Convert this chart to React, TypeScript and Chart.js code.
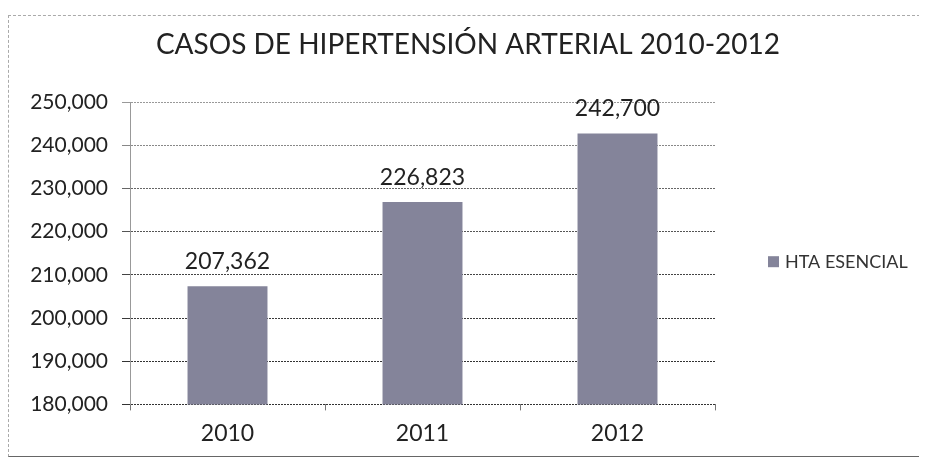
import React, { useEffect, useRef } from "react";
import { Chart, registerables } from "chart.js";

Chart.register(...registerables);

const categories = ["2010", "2011", "2012"];
const seriesName = "HTA ESENCIAL";
const values = [207362, 226823, 242700];
const titleText = "CASOS DE HIPERTENSIÓN ARTERIAL 2010-2012";
const yMin = 180000;
const yMax = 250000;
const yStep = 10000;

const FONT = "Lato, 'Open Sans', sans-serif";
const BAR_COLOR = "#84849a";
const fmt = (v: number) => v.toLocaleString("en-US");
const gridColors = ["#333", "#333", "#3a3a3a", "#444", "#555", "#666", "#888", "#999"];

const titlePlugin = {
  id: "centerTitle",
  afterDraw(chart: any) {
    const ctx = chart.ctx;
    ctx.save();
    ctx.font = `28px ${FONT}`;
    ctx.fillStyle = "#222";
    ctx.textAlign = "center";
    ctx.textBaseline = "middle";
    ctx.fillText(titleText, chart.width / 2 + 4, 29);
    ctx.restore();
  },
};

const valueLabels = {
  id: "valueLabels",
  afterDatasetsDraw(chart: any) {
    const ctx = chart.ctx;
    const meta = chart.getDatasetMeta(0);
    ctx.save();
    ctx.font = `23px ${FONT}`;
    ctx.fillStyle = "#222";
    ctx.textAlign = "center";
    ctx.textBaseline = "middle";
    meta.data.forEach((el: any, i: number) => {
      ctx.fillText(fmt(values[i]), el.x, el.y - 25);
    });
    ctx.restore();
  },
};

const sideLegend = {
  id: "sideLegend",
  afterDraw(chart: any) {
    const { ctx, chartArea } = chart;
    const cy = (chartArea.top + chartArea.bottom) / 2 + 8;
    const x = chartArea.right + 53;
    ctx.save();
    ctx.fillStyle = BAR_COLOR;
    ctx.fillRect(x, cy - 5, 11, 11);
    ctx.font = `18px ${FONT}`;
    ctx.fillStyle = "#333";
    ctx.textAlign = "left";
    ctx.textBaseline = "middle";
    ctx.fillText(seriesName, x + 17, cy + 1);
    ctx.restore();
  },
};

export default function App() {
  const ref = useRef<HTMLCanvasElement>(null);
  useEffect(() => {
    if (!ref.current) return;
    const chart = new Chart(ref.current, {
      type: "bar",
      data: {
        labels: categories,
        datasets: [
          {
            label: seriesName,
            data: values,
            backgroundColor: BAR_COLOR,
            barPercentage: 0.41,
            categoryPercentage: 1,
          },
        ],
      },
      options: {
        responsive: false,
        animation: false,
        layout: { padding: { left: 0, right: 204, top: 86, bottom: 0 } },
        plugins: {
          legend: { display: false },
          tooltip: { enabled: false },
          title: { display: false },
        },
        scales: {
          x: {
            grid: {
              display: true,
              offset: true,
              drawOnChartArea: false,
              tickLength: 6,
              color: "#777",
            },
            border: { display: false },
            ticks: {
              color: "#222",
              padding: 9,
              font: { family: FONT, size: 23 },
            },
          },
          y: {
            min: yMin,
            max: yMax,
            afterFit(scale: any) {
              scale.width = 121;
            },
            grid: {
              color: (c: any) => gridColors[c.index] ?? "#666",
              tickLength: 8,
              lineWidth: 1,
            },
            border: { display: true, color: "#999", dash: [2, 1] },
            ticks: {
              stepSize: yStep,
              color: "#222",
              padding: 14,
              font: { family: FONT, size: 21 },
              callback: (v: any) => fmt(Number(v)),
            },
          },
        },
      },
      plugins: [titlePlugin, valueLabels, sideLegend],
    });
    return () => chart.destroy();
  }, []);

  return (
    <div
      style={{
        marginTop: 7,
        width: 911,
        height: 440,
        borderTop: "1px dashed #aaa",
        borderLeft: "1px dashed #aaa",
        borderBottom: "1px solid #666",
        background: "#fff",
      }}
    >
      <canvas ref={ref} width={910} height={440} style={{ display: "block" }} />
    </div>
  );
}
